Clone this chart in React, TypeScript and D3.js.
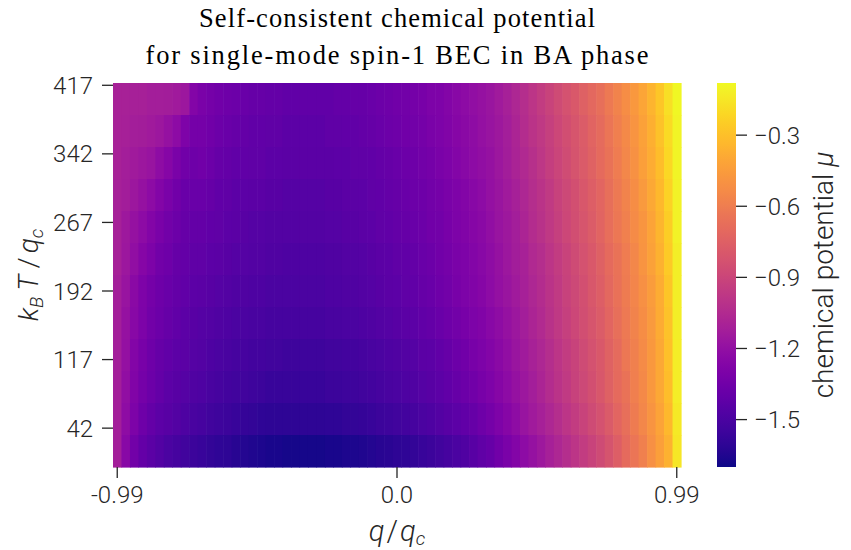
import React from "react";
import * as d3 from "d3";

// q / q_c column categories
const qValues = [
  -0.99, -0.96, -0.93, -0.9, -0.87, -0.84, -0.81, -0.78, -0.75, -0.72,
  -0.69, -0.66, -0.63, -0.6, -0.57, -0.54, -0.51, -0.48, -0.45, -0.42,
  -0.39, -0.36, -0.33, -0.3, -0.27, -0.24, -0.21, -0.18, -0.15, -0.12,
  -0.09, -0.06, -0.03, 0.0, 0.03, 0.06, 0.09, 0.12, 0.15, 0.18,
  0.21, 0.24, 0.27, 0.3, 0.33, 0.36, 0.39, 0.42, 0.45, 0.48,
  0.51, 0.54, 0.57, 0.6, 0.63, 0.66, 0.69, 0.72, 0.75, 0.78,
  0.81, 0.84, 0.87, 0.9, 0.93, 0.96, 0.99,
];

// k_B T / q_c band centres (top to bottom), each band 35 units tall
const tempBands = [402, 367, 332, 297, 262, 227, 192, 157, 122, 87, 52, 17];
const tempHalfBand = 17.5;

const yTickValues = [417, 342, 267, 192, 117, 42];
const xTickValues = [-0.99, 0.0, 0.99];
const xTickLabels = ["-0.99", "0.0", "0.99"];
const cbarTicks = [-0.3, -0.6, -0.9, -1.2, -1.5];
const cbarTickLabels = ["\u22120.3", "\u22120.6", "\u22120.9", "\u22121.2", "\u22121.5"];
const muMin = -1.7;
const muMax = -0.08;

// chemical potential, one array per temperature band (columns follow qValues)
const mu402 = [-1.10,-1.10,-1.11,-1.11,-1.12,-1.12,-1.13,-1.14,-1.16,-1.27,
  -1.31,-1.33,-1.35,-1.36,-1.37,-1.38,-1.39,-1.39,-1.40,-1.40,
  -1.41,-1.41,-1.41,-1.41,-1.41,-1.41,-1.40,-1.40,-1.39,-1.39,
  -1.38,-1.37,-1.36,-1.35,-1.34,-1.33,-1.32,-1.30,-1.29,-1.27,
  -1.25,-1.23,-1.21,-1.19,-1.17,-1.14,-1.11,-1.07,-1.03,-0.99,
  -0.95,-0.91,-0.87,-0.83,-0.79,-0.75,-0.71,-0.67,-0.62,-0.57,
  -0.52,-0.47,-0.41,-0.35,-0.27,-0.18,-0.09];
const mu367 = [-1.10,-1.11,-1.12,-1.13,-1.14,-1.16,-1.19,-1.23,-1.29,-1.33,
  -1.33,-1.35,-1.37,-1.38,-1.39,-1.40,-1.41,-1.41,-1.42,-1.42,
  -1.43,-1.43,-1.43,-1.43,-1.43,-1.42,-1.42,-1.41,-1.41,-1.40,
  -1.39,-1.38,-1.37,-1.36,-1.35,-1.34,-1.33,-1.31,-1.30,-1.28,
  -1.26,-1.24,-1.22,-1.20,-1.18,-1.15,-1.12,-1.08,-1.04,-1.00,
  -0.97,-0.93,-0.89,-0.85,-0.81,-0.77,-0.73,-0.69,-0.64,-0.59,
  -0.54,-0.49,-0.43,-0.37,-0.29,-0.20,-0.10];
const mu332 = [-1.10,-1.12,-1.14,-1.16,-1.18,-1.22,-1.26,-1.31,-1.35,-1.36,
  -1.35,-1.37,-1.39,-1.40,-1.41,-1.41,-1.42,-1.42,-1.43,-1.43,
  -1.44,-1.44,-1.44,-1.44,-1.44,-1.44,-1.43,-1.43,-1.42,-1.42,
  -1.41,-1.40,-1.39,-1.38,-1.37,-1.36,-1.34,-1.33,-1.31,-1.29,
  -1.27,-1.25,-1.23,-1.21,-1.19,-1.16,-1.13,-1.09,-1.06,-1.02,
  -0.98,-0.94,-0.90,-0.86,-0.82,-0.78,-0.74,-0.70,-0.65,-0.60,
  -0.55,-0.50,-0.44,-0.38,-0.31,-0.21,-0.10];
const mu297 = [-1.11,-1.13,-1.16,-1.19,-1.23,-1.27,-1.31,-1.35,-1.38,-1.38,
  -1.38,-1.39,-1.41,-1.42,-1.43,-1.43,-1.44,-1.44,-1.45,-1.45,
  -1.46,-1.46,-1.46,-1.46,-1.46,-1.45,-1.45,-1.44,-1.44,-1.43,
  -1.42,-1.41,-1.40,-1.39,-1.38,-1.37,-1.36,-1.34,-1.33,-1.31,
  -1.29,-1.27,-1.25,-1.23,-1.20,-1.17,-1.14,-1.11,-1.07,-1.03,
  -1.00,-0.96,-0.92,-0.88,-0.84,-0.80,-0.76,-0.72,-0.67,-0.62,
  -0.57,-0.52,-0.46,-0.40,-0.33,-0.23,-0.11];
const mu262 = [-1.11,-1.15,-1.19,-1.23,-1.27,-1.31,-1.34,-1.37,-1.39,-1.40,
  -1.40,-1.41,-1.42,-1.43,-1.44,-1.45,-1.46,-1.46,-1.47,-1.47,
  -1.47,-1.47,-1.47,-1.47,-1.47,-1.46,-1.46,-1.45,-1.45,-1.44,
  -1.43,-1.42,-1.41,-1.40,-1.39,-1.38,-1.37,-1.35,-1.34,-1.32,
  -1.30,-1.28,-1.26,-1.24,-1.21,-1.18,-1.15,-1.12,-1.08,-1.04,
  -1.01,-0.97,-0.93,-0.89,-0.85,-0.81,-0.77,-0.73,-0.68,-0.63,
  -0.58,-0.53,-0.48,-0.42,-0.34,-0.25,-0.11];
const mu227 = [-1.11,-1.16,-1.21,-1.26,-1.30,-1.34,-1.36,-1.39,-1.40,-1.42,
  -1.42,-1.43,-1.44,-1.45,-1.46,-1.46,-1.47,-1.47,-1.48,-1.48,
  -1.49,-1.49,-1.49,-1.49,-1.49,-1.48,-1.48,-1.47,-1.47,-1.46,
  -1.45,-1.44,-1.43,-1.42,-1.41,-1.40,-1.38,-1.37,-1.35,-1.33,
  -1.31,-1.29,-1.27,-1.25,-1.22,-1.19,-1.16,-1.13,-1.10,-1.06,
  -1.03,-0.99,-0.95,-0.91,-0.87,-0.83,-0.79,-0.75,-0.70,-0.65,
  -0.60,-0.55,-0.49,-0.43,-0.36,-0.26,-0.12];
const mu192 = [-1.12,-1.18,-1.24,-1.29,-1.33,-1.36,-1.38,-1.40,-1.41,-1.43,
  -1.44,-1.45,-1.46,-1.47,-1.48,-1.48,-1.49,-1.49,-1.50,-1.50,
  -1.50,-1.50,-1.50,-1.50,-1.50,-1.49,-1.49,-1.48,-1.48,-1.47,
  -1.46,-1.45,-1.44,-1.43,-1.42,-1.41,-1.39,-1.38,-1.36,-1.34,
  -1.32,-1.30,-1.28,-1.26,-1.23,-1.20,-1.17,-1.14,-1.11,-1.07,
  -1.04,-1.00,-0.96,-0.92,-0.88,-0.84,-0.80,-0.76,-0.71,-0.66,
  -0.61,-0.56,-0.51,-0.45,-0.38,-0.28,-0.12];
const mu157 = [-1.12,-1.19,-1.25,-1.30,-1.34,-1.37,-1.39,-1.41,-1.43,-1.45,
  -1.46,-1.47,-1.48,-1.49,-1.50,-1.50,-1.51,-1.51,-1.52,-1.52,
  -1.52,-1.52,-1.52,-1.52,-1.52,-1.51,-1.51,-1.50,-1.50,-1.49,
  -1.48,-1.47,-1.46,-1.45,-1.44,-1.43,-1.41,-1.40,-1.38,-1.36,
  -1.34,-1.32,-1.30,-1.28,-1.25,-1.22,-1.19,-1.16,-1.12,-1.08,
  -1.05,-1.01,-0.97,-0.93,-0.89,-0.85,-0.81,-0.77,-0.72,-0.67,
  -0.62,-0.57,-0.52,-0.46,-0.39,-0.29,-0.12];
const mu122 = [-1.12,-1.20,-1.27,-1.32,-1.36,-1.39,-1.41,-1.43,-1.44,-1.46,
  -1.47,-1.49,-1.50,-1.51,-1.52,-1.52,-1.53,-1.53,-1.54,-1.54,
  -1.55,-1.55,-1.55,-1.55,-1.55,-1.54,-1.54,-1.53,-1.53,-1.52,
  -1.51,-1.50,-1.49,-1.48,-1.47,-1.46,-1.44,-1.43,-1.41,-1.39,
  -1.37,-1.35,-1.32,-1.30,-1.27,-1.24,-1.21,-1.17,-1.14,-1.10,
  -1.07,-1.03,-0.99,-0.95,-0.91,-0.87,-0.83,-0.79,-0.74,-0.69,
  -0.63,-0.58,-0.53,-0.47,-0.40,-0.30,-0.13];
const mu87 = [-1.12,-1.21,-1.28,-1.33,-1.37,-1.40,-1.43,-1.45,-1.46,-1.48,
  -1.49,-1.51,-1.52,-1.53,-1.54,-1.54,-1.55,-1.56,-1.57,-1.57,
  -1.57,-1.57,-1.57,-1.57,-1.57,-1.56,-1.56,-1.55,-1.55,-1.54,
  -1.53,-1.52,-1.51,-1.50,-1.49,-1.48,-1.46,-1.45,-1.43,-1.41,
  -1.39,-1.37,-1.35,-1.32,-1.29,-1.26,-1.23,-1.19,-1.16,-1.12,
  -1.08,-1.04,-1.00,-0.96,-0.92,-0.88,-0.84,-0.80,-0.75,-0.70,
  -0.65,-0.59,-0.54,-0.47,-0.40,-0.31,-0.13];
const mu52 = [-1.12,-1.22,-1.30,-1.36,-1.40,-1.43,-1.45,-1.47,-1.49,-1.51,
  -1.52,-1.54,-1.55,-1.56,-1.57,-1.58,-1.59,-1.60,-1.61,-1.61,
  -1.61,-1.61,-1.61,-1.61,-1.61,-1.60,-1.60,-1.59,-1.59,-1.58,
  -1.57,-1.56,-1.55,-1.54,-1.53,-1.52,-1.50,-1.49,-1.47,-1.45,
  -1.43,-1.41,-1.39,-1.36,-1.33,-1.29,-1.26,-1.22,-1.18,-1.14,
  -1.11,-1.07,-1.03,-0.99,-0.95,-0.91,-0.87,-0.83,-0.78,-0.72,
  -0.67,-0.61,-0.55,-0.49,-0.42,-0.33,-0.14];
const mu17 = [-1.12,-1.25,-1.34,-1.40,-1.44,-1.47,-1.50,-1.52,-1.54,-1.56,
  -1.57,-1.59,-1.60,-1.61,-1.63,-1.64,-1.65,-1.66,-1.67,-1.67,
  -1.68,-1.68,-1.68,-1.68,-1.68,-1.67,-1.67,-1.66,-1.66,-1.65,
  -1.64,-1.63,-1.62,-1.61,-1.60,-1.59,-1.57,-1.56,-1.54,-1.52,
  -1.50,-1.48,-1.45,-1.42,-1.39,-1.35,-1.31,-1.27,-1.23,-1.19,
  -1.15,-1.11,-1.07,-1.03,-0.99,-0.95,-0.91,-0.87,-0.82,-0.76,
  -0.70,-0.64,-0.58,-0.51,-0.44,-0.36,-0.15];

const muRows = [mu402, mu367, mu332, mu297, mu262, mu227, mu192, mu157, mu122, mu87, mu52, mu17];

export default function App() {
  const W = 851;
  const H = 550;
  const left = 113;
  const right = 681;
  const top = 83;
  const bottom = 467;
  const cbLeft = 717;
  const cbRight = 736;

  const x = d3.scaleBand<number>().domain(qValues).range([left, right]).padding(0);
  const y = d3.scaleLinear().domain([-0.5, 419.5]).range([bottom, top]);
  const color = d3.scaleSequential(d3.interpolatePlasma).domain([muMin, muMax]);
  const cb = d3.scaleLinear().domain([muMin, muMax]).range([bottom, top]);

  const tickColor = "#262626";
  const sans = "Roboto, 'DejaVu Sans', sans-serif";
  const serif = "'Liberation Serif', 'DejaVu Serif', serif";
  const stops = d3.range(0, 1.0001, 0.02);
  const midX = (left + right) / 2;

  return (
    <svg
      width={W}
      height={H}
      viewBox={`0 0 ${W} ${H}`}
      style={{ position: "absolute", left: 0, top: 0, background: "#fff" }}
    >
      <defs>
        <linearGradient id="cbgrad" x1="0" y1="1" x2="0" y2="0">
          {stops.map((s) => (
            <stop key={s} offset={s} stopColor={d3.interpolatePlasma(s)} />
          ))}
        </linearGradient>
      </defs>
      <rect x={0} y={0} width={W} height={H} fill="#fff" />

      {/* title */}
      <text x={midX} y={27} textAnchor="middle" fontFamily={serif} fontSize={26.5} fill="#000"
        textLength={396} lengthAdjust="spacing">
        Self-consistent chemical potential
      </text>
      <text x={midX} y={64} textAnchor="middle" fontFamily={serif} fontSize={26.5} fill="#000"
        textLength={503} lengthAdjust="spacing">
        for single-mode spin-1 BEC in BA phase
      </text>

      {/* heatmap */}
      <g>
        {muRows.map((row, r) =>
          row.map((v, c) => {
            const t = tempBands[r];
            const y0 = y(t + tempHalfBand);
            const y1 = y(t - tempHalfBand);
            return (
              <rect
                key={`${r}-${c}`}
                x={x(qValues[c])}
                y={y0}
                width={x.bandwidth() + 0.6}
                height={y1 - y0 + 0.6}
                fill={color(v)}
              />
            );
          })
        )}
      </g>

      {/* y ticks */}
      <g>
        {yTickValues.map((t, i) => (
          <g key={t}>
            <line x1={left - 11} x2={left} y1={y(t)} y2={y(t)} stroke={tickColor} strokeWidth={1.3} />
            <text x={left - 20} y={y(t)} dy="0.36em" textAnchor="end" fontFamily={sans} fontWeight={300} fontSize={24} fill={tickColor}>
              {String(yTickValues[i])}
            </text>
          </g>
        ))}
      </g>

      {/* x ticks */}
      <g>
        {xTickValues.map((q, i) => {
          const cx = (x(q) as number) + x.bandwidth() / 2;
          return (
            <g key={i}>
              <line x1={cx} x2={cx} y1={bottom} y2={bottom + 11} stroke={tickColor} strokeWidth={1.3} />
              <text x={cx} y={503} textAnchor="middle" fontFamily={sans} fontWeight={300} fontSize={24} fill={tickColor}>
                {xTickLabels[i]}
              </text>
            </g>
          );
        })}
      </g>

      {/* axis labels */}
      <text x={midX} y={541} textAnchor="middle" fontFamily={sans} fontWeight={300} fontSize={29} fontStyle="italic" fill={tickColor}>
        q<tspan fontStyle="normal" dx="2">/</tspan>
        <tspan dx="2">q</tspan>
        <tspan fontSize={19} dy="4">c</tspan>
      </text>
      <text
        transform={`translate(38, ${(top + bottom) / 2}) rotate(-90)`}
        textAnchor="middle"
        fontFamily={sans}
        fontWeight={300}
        fontSize={28}
        fontStyle="italic"
        fill={tickColor}
      >
        k<tspan fontSize={19} dy="5">B</tspan>
        <tspan dy="-5" dx="6">T</tspan>
        <tspan fontStyle="normal" dx="6">/</tspan>
        <tspan dx="4">q</tspan>
        <tspan fontSize={19} dy="5">c</tspan>
      </text>

      {/* colorbar */}
      <rect x={cbLeft} y={top} width={cbRight - cbLeft} height={bottom - top} fill="url(#cbgrad)" />
      <g>
        {cbarTicks.map((v, i) => (
          <g key={v}>
            <line x1={cbRight} x2={cbRight + 11} y1={cb(v)} y2={cb(v)} stroke={tickColor} strokeWidth={1.3} />
            <text x={cbRight + 18} y={cb(v)} dy="0.36em" textAnchor="start" fontFamily={sans} fontWeight={300} fontSize={24} fill={tickColor}>
              {cbarTickLabels[i]}
            </text>
          </g>
        ))}
      </g>
      <text
        transform={`translate(833, ${(top + bottom) / 2}) rotate(-90)`}
        textAnchor="middle"
        fontFamily={sans}
        fontWeight={300}
        fontSize={28}
        fill={tickColor}
      >
        chemical potential <tspan fontStyle="italic">μ</tspan>
      </text>
    </svg>
  );
}
